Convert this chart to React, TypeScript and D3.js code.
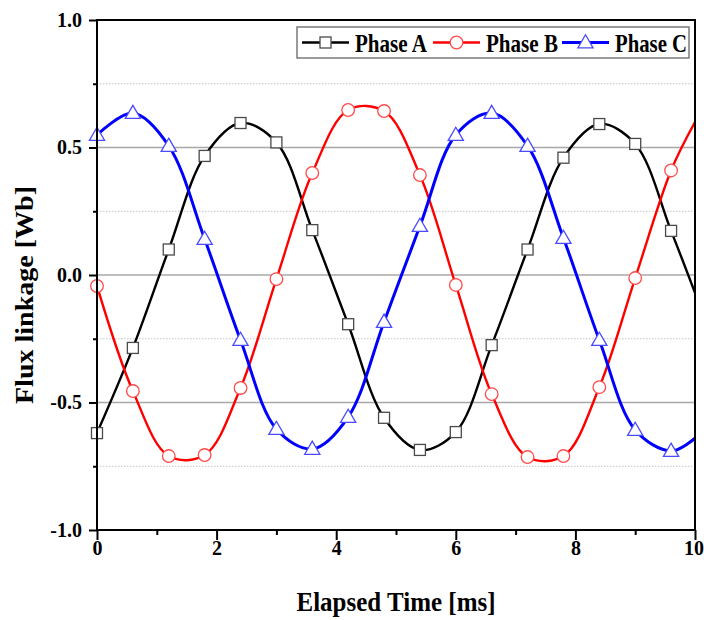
import React, { useRef, useEffect } from 'react';
import * as d3 from 'd3';

// sample times (ms); the last point (10 ms) is line-only, no marker
const time = [0, 0.6, 1.2, 1.8, 2.4, 3.0, 3.6, 4.2, 4.8, 5.4, 6.0, 6.6, 7.2, 7.8, 8.4, 9.0, 9.6, 10];
const phaseA = [-0.62, -0.286, 0.10, 0.467, 0.596, 0.52, 0.176, -0.193, -0.56, -0.686, -0.616, -0.275, 0.10, 0.46, 0.592, 0.514, 0.173, -0.07];
const phaseB = [-0.043, -0.455, -0.71, -0.706, -0.443, -0.016, 0.40, 0.647, 0.643, 0.392, -0.039, -0.467, -0.714, -0.71, -0.44, -0.012, 0.41, 0.60];
const phaseC = [0.549, 0.635, 0.506, 0.141, -0.255, -0.604, -0.682, -0.557, -0.184, 0.192, 0.549, 0.635, 0.506, 0.145, -0.255, -0.608, -0.69, -0.64];
const markerCount = 17;

const xTicks = [0, 2, 4, 6, 8, 10];
const xMinor = [1, 3, 5, 7, 9];
const yTicks = [-1.0, -0.5, 0.0, 0.5, 1.0];
const yMinor = [-0.75, -0.25, 0.25, 0.75];

const seriesNames = ['Phase A', 'Phase B', 'Phase C'];

const FONT = '"Liberation Serif", "Times New Roman", serif';

const App = () => {
  const ref = useRef<SVGSVGElement>(null);

  useEffect(() => {
    if (!ref.current) return;
    const svg = d3.select(ref.current);
    svg.selectAll('*').remove();

    const left = 97, right = 695, top = 20, bottom = 530;
    const x = d3.scaleLinear().domain([0, 10]).range([left, right]);
    const y = d3.scaleLinear().domain([-1, 1]).range([bottom, top]);

    const series = [
      { name: seriesNames[0], values: phaseA, line: '#000000', mark: '#4a4a4a', shape: 'square', width: 2.4 },
      { name: seriesNames[1], values: phaseB, line: '#ff0000', mark: '#ff4a4a', shape: 'circle', width: 2.4 },
      { name: seriesNames[2], values: phaseC, line: '#0000ff', mark: '#4a4aff', shape: 'triangle', width: 3 },
    ];

    svg.append('clipPath').attr('id', 'plot-clip')
      .append('rect').attr('x', left).attr('y', top).attr('width', right - left).attr('height', bottom - top);

    // grid lines
    svg.append('g').selectAll('line').data(yMinor).enter().append('line')
      .attr('x1', left).attr('x2', right)
      .attr('y1', d => y(d)).attr('y2', d => y(d))
      .attr('stroke', '#c4c4c4').attr('stroke-width', 1.2).attr('stroke-dasharray', '1.5,1.5');
    svg.append('g').selectAll('line').data(yTicks.filter(d => Math.abs(d) < 1)).enter().append('line')
      .attr('x1', left).attr('x2', right)
      .attr('y1', d => y(d)).attr('y2', d => y(d))
      .attr('stroke', '#a8a8a8').attr('stroke-width', 1.4);

    // curves
    const plot = svg.append('g').attr('clip-path', 'url(#plot-clip)');
    series.forEach(s => {
      const line = d3.line<number>()
        .x((_, i) => x(time[i]))
        .y(d => y(d))
        .curve(d3.curveCatmullRom.alpha(0.5));
      plot.append('path')
        .attr('d', line(s.values))
        .attr('fill', 'none')
        .attr('stroke', s.line)
        .attr('stroke-width', s.width);
    });

    const drawMarker = (g: any, shape: string, cx: number, cy: number, color: string) => {
      if (shape === 'square') {
        g.append('rect').attr('x', cx - 5.5).attr('y', cy - 5.5).attr('width', 11).attr('height', 11)
          .attr('fill', '#fff').attr('stroke', color).attr('stroke-width', 1.3);
      } else if (shape === 'circle') {
        g.append('circle').attr('cx', cx).attr('cy', cy).attr('r', 6.3)
          .attr('fill', '#fff').attr('stroke', color).attr('stroke-width', 1.3);
      } else {
        const tri = d3.symbol().type(d3.symbolTriangle).size(100);
        g.append('path').attr('d', tri()).attr('transform', `translate(${cx},${cy + 1})`)
          .attr('fill', '#fff').attr('stroke', color).attr('stroke-width', 1.3);
      }
    };

    const markers = svg.append('g');
    series.forEach(s => {
      s.values.slice(0, markerCount).forEach((v, i) => {
        drawMarker(markers, s.shape, x(time[i]), y(v), s.mark);
      });
    });

    // axes
    const styleAxis = (g: any) => {
      g.select('.domain').remove();
      g.selectAll('.tick line').attr('stroke', '#000').attr('stroke-width', 2);
      g.selectAll('text').attr('font-family', FONT).attr('font-weight', 'bold')
        .attr('font-size', 20).attr('fill', '#000');
    };

    const xAxis = svg.append('g').attr('transform', `translate(0,${bottom})`)
      .call(d3.axisBottom(x).tickValues(xTicks).tickSize(10).tickPadding(1).tickFormat(d => `${d}`))
      .call(styleAxis);
    // keep the last label inside the page
    xAxis.selectAll('.tick text').filter((d: any) => d === 10).attr('dx', -1.5);
    svg.append('g').attr('transform', `translate(0,${bottom})`)
      .call(d3.axisBottom(x).tickValues(xMinor).tickSize(5).tickFormat(() => ''))
      .call(styleAxis);
    svg.append('g').attr('transform', `translate(${left},0)`)
      .call(d3.axisLeft(y).tickValues(yTicks).tickSize(8).tickPadding(7).tickFormat(d => (+d).toFixed(1)))
      .call(styleAxis);
    svg.append('g').attr('transform', `translate(${left},0)`)
      .call(d3.axisLeft(y).tickValues(yMinor).tickSize(4).tickFormat(() => ''))
      .call(styleAxis);

    // frame
    svg.append('rect').attr('x', left).attr('y', top).attr('width', right - left).attr('height', bottom - top)
      .attr('fill', 'none').attr('stroke', '#000').attr('stroke-width', 2);

    // axis titles
    svg.append('text').attr('transform', 'translate(396,611) scale(1,1.12)').attr('text-anchor', 'middle')
      .attr('font-family', FONT).attr('font-weight', 'bold').attr('font-size', 25)
      .text('Elapsed Time [ms]');
    svg.append('text').attr('transform', 'translate(33,295) rotate(-90)').attr('text-anchor', 'middle')
      .attr('font-family', FONT).attr('font-weight', 'bold').attr('font-size', 25)
      .attr('textLength', 218).attr('lengthAdjust', 'spacingAndGlyphs')
      .text('Flux linkage [Wb]');

    // legend
    const lg = svg.append('g');
    lg.append('rect').attr('x', 297).attr('y', 27).attr('width', 392).attr('height', 31)
      .attr('fill', '#fff').attr('stroke', '#7a7a7a').attr('stroke-width', 1.5);
    const slots = [302, 433, 562];
    series.forEach((s, i) => {
      const sx = slots[i];
      lg.append('line').attr('x1', sx).attr('x2', sx + 47).attr('y1', 42.5).attr('y2', 42.5)
        .attr('stroke', s.line).attr('stroke-width', s.width);
      drawMarker(lg, s.shape, sx + 23.5, 42.5, s.mark);
      lg.append('text').attr('transform', `translate(${sx + 53},52) scale(1,1.1)`)
        .attr('font-family', FONT).attr('font-weight', 'bold').attr('font-size', 23)
        .attr('textLength', 72).attr('lengthAdjust', 'spacingAndGlyphs')
        .text(s.name);
    });
  }, []);

  return (
    <div>
      <style>{`body{margin:0;background:#fff}`}</style>
      <svg ref={ref} width={704} height={620} style={{ display: 'block', background: '#fff' }} />
    </div>
  );
};

export default App;
